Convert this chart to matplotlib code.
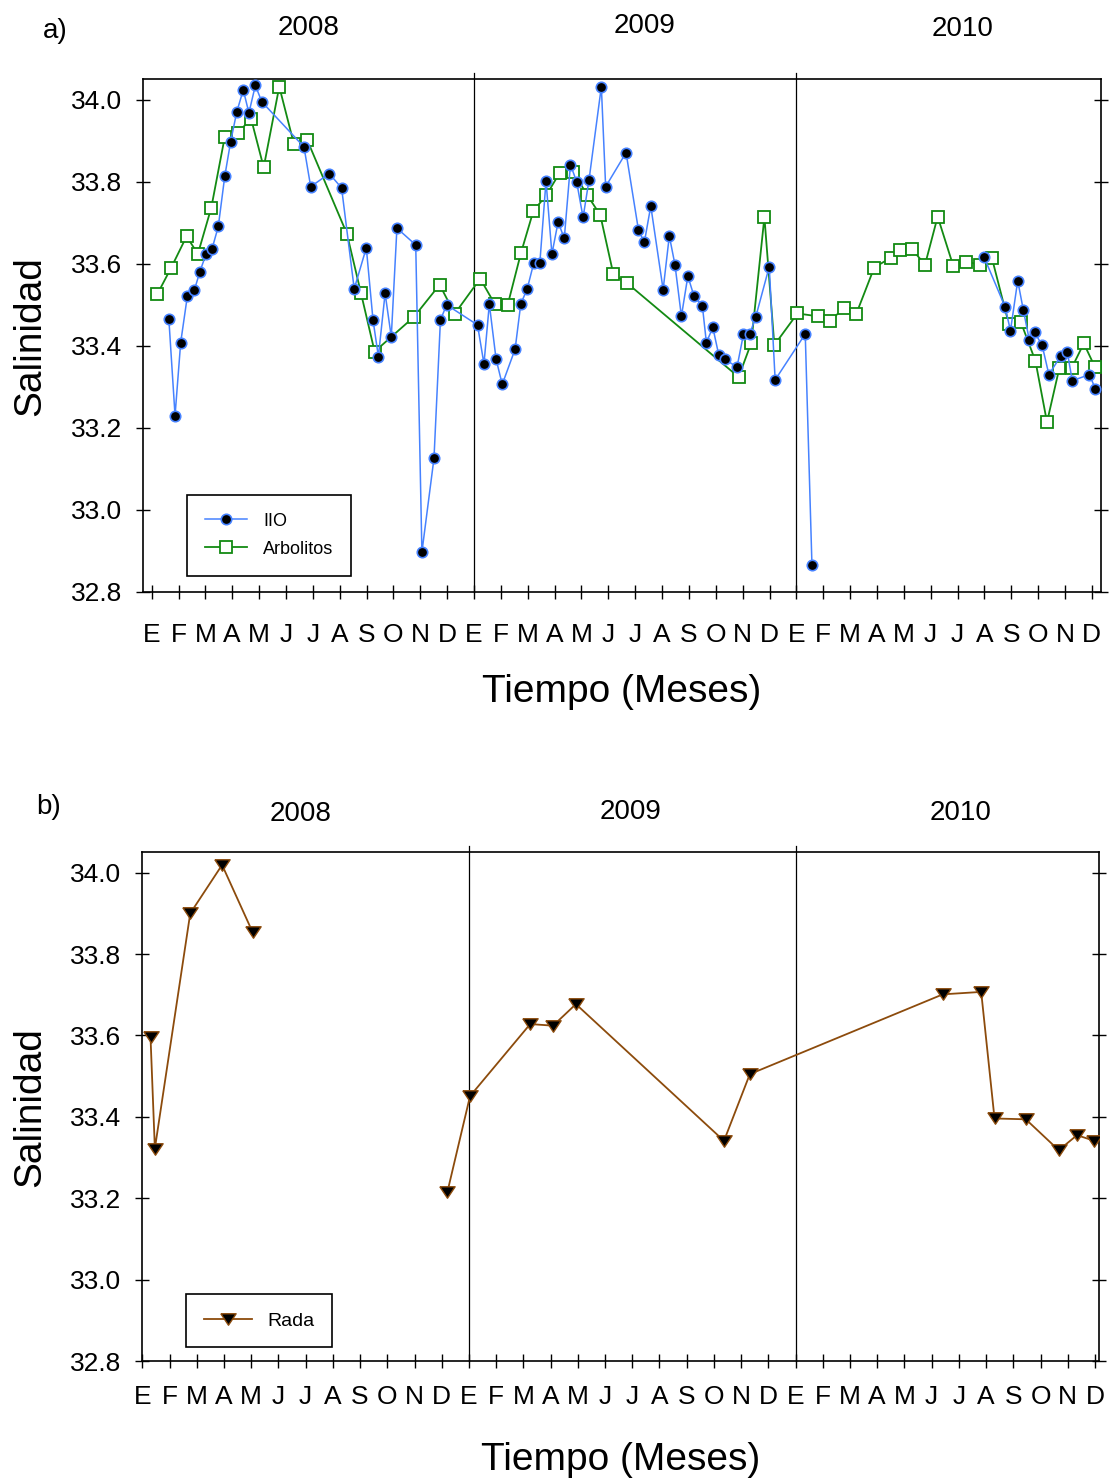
import numpy as np
import matplotlib
matplotlib.use('Agg')
import matplotlib.pyplot as plt

plt.rcParams['font.family'] = ['Liberation Sans', 'DejaVu Sans']

# ---------------- data ----------------
months = ['E', 'F', 'M', 'A', 'M', 'J', 'J', 'A', 'S', 'O', 'N', 'D']
years = ['2008', '2009', '2010']
month_labels = months * 3
year_breaks = [12, 24]          # month index of Jan 2009 and Jan 2010
yticks = [32.8, 33.0, 33.2, 33.4, 33.6, 33.8, 34.0]

# time = months since 1 Jan 2008
iio_t = [0.64, 0.87, 1.08, 1.33, 1.59, 1.79, 2.02, 2.25, 2.48, 2.72, 2.94, 3.17,
         3.41, 3.62, 3.86, 4.10, 5.67, 5.92, 6.61, 7.07, 7.54, 7.99, 8.24, 8.44,
         8.69, 8.92, 9.13, 9.83, 10.06, 10.51, 10.75, 10.98,
         12.13, 12.37, 12.57, 12.82, 13.05, 13.53, 13.74, 13.98, 14.22, 14.45,
         14.68, 14.90, 15.13, 15.36, 15.59, 15.82, 16.06, 16.28, 16.74, 16.90,
         17.66, 18.12, 18.34, 18.58, 19.04, 19.27, 19.48, 19.72, 19.96, 20.19,
         20.50, 20.65, 20.89, 21.11, 21.33, 21.79, 22.03, 22.26, 22.49, 22.99,
         23.21,
         24.33, 24.58, np.nan,
         30.99, 31.77, 31.97, 32.24, 32.45, 32.67, 32.87, 33.15, 33.40, 33.85,
         34.09, 34.27, 34.91, 35.13]
iio_s = [33.465, 33.230, 33.408, 33.522, 33.536, 33.580, 33.623, 33.637, 33.691, 33.813, 33.898, 33.971,
         34.024, 33.968, 34.035, 33.995, 33.885, 33.788, 33.820, 33.785, 33.539, 33.639, 33.463, 33.374,
         33.528, 33.422, 33.687, 33.646, 32.897, 33.126, 33.463, 33.500,
         33.451, 33.356, 33.502, 33.368, 33.306, 33.392, 33.502, 33.539, 33.601, 33.602,
         33.802, 33.624, 33.702, 33.662, 33.842, 33.800, 33.713, 33.804, 34.032, 33.788,
         33.871, 33.683, 33.652, 33.741, 33.537, 33.668, 33.598, 33.472, 33.570, 33.521,
         33.498, 33.408, 33.445, 33.378, 33.368, 33.348, 33.428, 33.428, 33.471, 33.593,
         33.317,
         33.429, 32.866, np.nan,
         33.616, 33.495, 33.437, 33.559, 33.487, 33.415, 33.433, 33.401, 33.330, 33.376,
         33.384, 33.315, 33.330, 33.295]

arb_t = [0.21, 0.73, 1.30, 1.72, 2.22, 2.72, 3.22, 3.70, 4.17, 4.75, 5.30, 5.79,
         7.27, 7.79, 8.30, 9.77, 10.72, 11.28,
         12.23, 12.78, 13.25, 13.75, 14.21, 14.69, 15.19, 15.70, 16.21, 16.70,
         17.19, 17.68, 21.85, 22.32, 22.81, 23.18,
         24.04, 24.80, 25.25, 25.76, 26.23, 26.90, 27.52, 27.85, 28.31, 28.79,
         29.26, 29.84, 30.32, 30.84, 31.28, 31.91, 32.35, 32.90, 33.33, 33.79,
         34.25, 34.70, 35.11]
arb_s = [33.526, 33.591, 33.667, 33.624, 33.737, 33.909, 33.920, 33.954, 33.835, 34.032, 33.891, 33.902,
         33.673, 33.529, 33.386, 33.471, 33.549, 33.478,
         33.564, 33.501, 33.499, 33.627, 33.729, 33.767, 33.822, 33.824, 33.768, 33.719,
         33.574, 33.554, 33.324, 33.407, 33.714, 33.402,
         33.479, 33.472, 33.460, 33.492, 33.478, 33.591, 33.615, 33.634, 33.635, 33.598,
         33.715, 33.595, 33.605, 33.598, 33.614, 33.453, 33.459, 33.363, 33.214, 33.346,
         33.346, 33.406, 33.349]

rada_t = [0.30, 0.46, 1.76, 2.93, 4.05, np.nan,
          11.21, 12.04, 14.25, 15.09, 15.93, 21.37, 22.32,
          29.41, 30.82, 31.31, 32.46, 33.67, 34.34, 34.98]
rada_s = [33.597, 33.322, 33.900, 34.019, 33.854, np.nan,
          33.216, 33.451, 33.628, 33.624, 33.677, 33.341, 33.505,
          33.701, 33.707, 33.396, 33.394, 33.318, 33.355, 33.341]

# ---------------- style ----------------
C_IIO = '#4682ff'
C_ARB = '#138a13'
C_RADA = '#8c4b0c'
tri = [(-1, 0.75), (1, 0.75), (0, -0.75), (-1, 0.75)]

fig = plt.figure(figsize=(11.12, 14.81), dpi=100)
ax1 = fig.add_axes([0.1283, 0.6003, 0.8618, 0.3462])
ax2 = fig.add_axes([0.1280, 0.0810, 0.8601, 0.3435])


def style_axis(ax, xlim, xpad):
    ax.set_xlim(*xlim)
    ax.set_ylim(32.8, 34.05)
    ax.set_yticks(yticks)
    ax.set_yticklabels(['%.1f' % v for v in yticks])
    ax.set_xticks(np.arange(len(month_labels)))
    ax.set_xticklabels(month_labels)
    ax.tick_params(axis='both', direction='inout', length=10, width=1.0,
                   labelsize=19, color='black')
    ax.tick_params(axis='y', left=True, right=True, pad=10)
    ax.tick_params(axis='x', bottom=True, top=False, pad=xpad)
    for sp in ax.spines.values():
        sp.set_linewidth(1.2)
    for b in year_breaks:
        ax.axvline(b, ymin=0, ymax=1.012, color='black', lw=0.9, clip_on=False)
    ax.set_ylabel('Salinidad', fontsize=28, va='center')
    ax.yaxis.set_label_coords(-0.117, 0.5)
    ax.set_xlabel('Tiempo (Meses)', fontsize=28, va='center')
    ax.xaxis.set_label_coords(0.5, -0.195)


style_axis(ax1, (-0.335, 35.34), 17.5)
style_axis(ax2, (0.0, 35.14), 12.5)

ax1.plot(arb_t, arb_s, color=C_ARB, lw=1.3, marker='s', ms=8,
         mfc='white', mec=C_ARB, mew=1.3, label='Arbolitos', zorder=3)
ax1.plot(iio_t, iio_s, color=C_IIO, lw=1.1, marker='o', ms=7.5,
         mfc='black', mec=C_IIO, mew=1.2, label='IIO', zorder=4)
h, l = ax1.get_legend_handles_labels()
leg1 = ax1.legend(h[::-1], l[::-1], loc='lower left', bbox_to_anchor=(0.0465, 0.0318),
                  borderaxespad=0, fancybox=False, edgecolor='black', framealpha=1,
                  fontsize=13, handlelength=2.3, handletextpad=0.9, borderpad=1.0,
                  labelspacing=0.6)
leg1.get_frame().set_linewidth(1.2)

ax2.plot(rada_t, rada_s, color=C_RADA, lw=1.3, marker=tri, ms=11,
         mfc='black', mec=C_RADA, mew=1.0, label='Rada', zorder=3)
leg2 = ax2.legend(loc='lower left', bbox_to_anchor=(0.0457, 0.0275),
                  borderaxespad=0, fancybox=False, edgecolor='black', framealpha=1,
                  fontsize=14, handlelength=2.5, handletextpad=0.8, borderpad=0.9)
leg2.get_frame().set_linewidth(1.2)

# panel letters and year headers
W, H = 1112.0, 1481.0
fig.text(55 / W, 1 - 31 / H, 'a)', fontsize=20, ha='center', va='center')
fig.text(49 / W, 1 - 807 / H, 'b)', fontsize=20, ha='center', va='center')
for yr, (xa, ya), (xb, yb) in zip(years,
                                  [(309, 28), (645, 26), (963, 29)],
                                  [(301, 814), (631, 812), (961, 813)]):
    fig.text(xa / W, 1 - ya / H, yr, fontsize=20, ha='center', va='center')
    fig.text(xb / W, 1 - yb / H, yr, fontsize=20, ha='center', va='center')

fig.savefig('out.png', dpi=100)
